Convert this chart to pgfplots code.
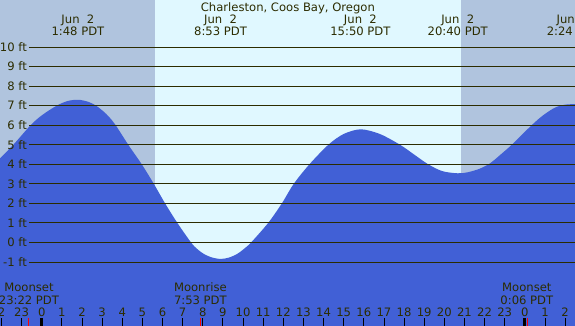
\documentclass[border=0pt]{standalone}
\usepackage{pgfplots}
\pgfplotsset{compat=1.18}
\usepgfplotslibrary{fillbetween}
\usepackage{fontspec}
\setmainfont{DejaVu Sans}
\definecolor{night}{RGB}{176,196,222}
\definecolor{day}{RGB}{224,248,255}
\definecolor{tidec}{RGB}{65,96,214}
\definecolor{ink}{RGB}{44,44,0}
\newcommand{\lf}{\fontsize{11.6}{13}\selectfont}
\tikzset{lab/.style={font=\lf, text=ink, inner sep=0pt, anchor=base}}
\begin{document}
\begin{tikzpicture}
\begin{axis}[
  at={(0,0)}, anchor=south west,
  width=575pt, height=326pt, scale only axis,
  xmin=-2.0716, xmax=26.493, ymin=-4.271, ymax=12.404,
  axis line style={draw=none},
  ytick=\empty,
  xtick={-2,...,26},
  xticklabels={2,23,0,1,2,3,4,5,6,7,8,9,10,11,12,13,14,15,16,17,18,19,20,21,22,23,0,1,2},
  xtick pos=left,
  tick align=inside,
  major tick length=8pt,
  tick style={black, line width=0.8pt},
  extra x ticks={0,24}, extra x tick labels={},
  extra x tick style={tick style={black, line width=3pt}},
  xticklabel style={font=\lf, text=ink, anchor=base, inner sep=0pt, yshift=9.3pt},
  axis on top,
  clip=false,
]
% day / night background
\fill[night] (axis cs:-2.0716,-4.271) rectangle (axis cs:5.628,12.404);
\fill[day] (axis cs:5.628,-4.271) rectangle (axis cs:20.81,12.404);
\fill[night] (axis cs:20.81,-4.271) rectangle (axis cs:26.493,12.404);
% tide curve (hours from midnight Jun 2, feet)
\addplot[name path=tide, draw=none, smooth] coordinates {
(-2.1,4.28) (-1.41,5.0) (-0.55,6.0) (0.0,6.5) (0.745,7.0) (1.3,7.24) (1.82,7.30)
(2.3,7.20) (2.70,7.0) (3.2,6.58) (3.64,6.05) (4.30,5.0) (4.97,4.0) (5.57,3.0)
(6.13,2.0) (6.74,1.0) (7.42,0.0) (7.70,-0.31) (8.03,-0.57) (8.44,-0.76) (8.88,-0.84)
(9.27,-0.78) (9.69,-0.60) (10.02,-0.35) (10.40,0.0) (11.25,1.0) (11.93,2.0) (12.52,3.0)
(13.30,4.0) (14.24,5.0) (15.0,5.55) (15.85,5.79) (16.8,5.55) (17.8,5.0) (18.5,4.5)
(19.2,4.0) (19.9,3.65) (20.67,3.54) (21.2,3.6) (21.77,3.78) (22.27,4.05) (22.8,4.5)
(23.35,5.0) (24.34,6.0) (24.9,6.5) (25.5,6.9) (26.0,7.05) (26.5,7.08)
};
\path[name path=bottom] (axis cs:-2.1,-4.271) -- (axis cs:26.5,-4.271);
\addplot[tidec, draw=none] fill between[of=tide and bottom, on layer=main];
% grid lines and labels
\pgfplotsinvokeforeach{-1,...,10}{
  \draw[ink, line width=0.9pt] (axis cs:-0.631,#1) -- (axis cs:26.493,#1);
  \node[lab, anchor=base east, yshift=-4.3pt] at (axis cs:-0.73,#1) {#1 ft};
}
% moon ticks
\draw[red, line width=1pt] (axis cs:-0.633,-4.271) -- (axis cs:-0.633,-3.862);
\draw[red, line width=1pt] (axis cs:7.883,-4.271) -- (axis cs:7.883,-3.862);
\draw[red, line width=1pt] (axis cs:24.15,-4.271) -- (axis cs:24.15,-3.862);
% title and tide labels
\node[lab] at (axis cs:12.23,11.84) {Charleston, Coos Bay, Oregon};
\node[lab] at (axis cs:1.8,11.18) {Jun\ \ 2};
\node[lab] at (axis cs:1.8,10.58) {1:48 PDT};
\node[lab] at (axis cs:8.883,11.18) {Jun\ \ 2};
\node[lab] at (axis cs:8.883,10.58) {8:53 PDT};
\node[lab] at (axis cs:15.833,11.18) {Jun\ \ 2};
\node[lab] at (axis cs:15.833,10.58) {15:50 PDT};
\node[lab] at (axis cs:20.667,11.18) {Jun\ \ 2};
\node[lab] at (axis cs:20.667,10.58) {20:40 PDT};
\node[lab] at (axis cs:26.4,11.18) {Jun\ \ 3};
\node[lab] at (axis cs:26.4,10.58) {2:24 PDT};
% moon labels
\node[lab] at (axis cs:-0.633,-2.517) {Moonset};
\node[lab] at (axis cs:-0.633,-3.146) {23:22 PDT};
\node[lab] at (axis cs:7.883,-2.517) {Moonrise};
\node[lab] at (axis cs:7.883,-3.146) {7:53 PDT};
\node[lab] at (axis cs:24.1,-2.517) {Moonset};
\node[lab] at (axis cs:24.1,-3.146) {0:06 PDT};
\end{axis}
\pgfresetboundingbox
\useasboundingbox (0,0) rectangle (575pt,326pt);
\end{tikzpicture}
\end{document}
